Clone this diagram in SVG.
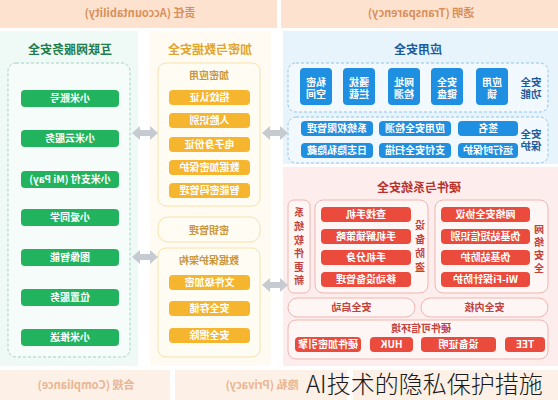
<svg xmlns="http://www.w3.org/2000/svg" width="558" height="400" viewBox="0 0 558 400">
<style>
text{font-family:"Noto Sans CJK SC","Noto Sans",sans-serif;text-anchor:middle;}
.hd{fill:#d98f5a;font-size:11px;font-weight:700;}
.bt{fill:#e9b592;font-size:11px;font-weight:700;}
.w{fill:#fff;font-size:10px;font-weight:700;}
.tg{fill:#1f7d4c;font-size:12px;font-weight:700;}
.ty{fill:#e2a52c;font-size:12px;font-weight:700;}
.ly{fill:#c8963c;font-size:10px;font-weight:700;}
.tb{fill:#1b5d9c;font-size:12px;font-weight:700;}
.lb{fill:#1b5d9c;font-size:10.5px;font-weight:700;}
.tr{fill:#b8312c;font-size:12px;font-weight:700;}
.lr{fill:#c2403a;font-size:10px;font-weight:700;}
.gbtn{fill:#22b35e;}
.obtn{fill:#f5b52e;}
.bbtn{fill:#1e8fe1;}
.rbtn{fill:#ea4b3c;}
.ybox{fill:#fffcf4;stroke:#f6e2a8;stroke-width:1;}
.bbox{fill:#f2f9fe;stroke:#93c3e6;stroke-width:1;stroke-dasharray:3 2;}
.rbox{fill:#fdf6f5;stroke:#f1b4ae;stroke-width:1;}
.arr{fill:#c6cbd1;}
</style>
<defs>
<path id="dbl" d="M0,0 L8,-7 L8,-3 L18,-3 L18,-7 L26,0 L18,7 L18,3 L8,3 L8,7 Z"/>
</defs>

<g id="header">
<rect x="0" y="0" width="277" height="28" fill="#fde3cf"/>
<rect x="281" y="0" width="277" height="28" fill="#fde3cf"/>
<text class="hd" x="140" y="17" transform="matrix(-1 0 0 1 280 0)">责任 (Accountability)</text>
<text class="hd" x="421" y="17" transform="matrix(-1 0 0 1 842 0)">透明 (Transparency)</text>
</g>

<g id="footer">
<rect x="0" y="370" width="170" height="30" fill="#fdf0e6"/>
<rect x="175" y="370" width="172" height="30" fill="#fdf0e6"/>
<rect x="353" y="370" width="205" height="30" fill="#fdf0e6"/>
<text class="bt" x="86" y="389" transform="matrix(-1 0 0 1 172 0)">合规 (Compliance)</text>
<text class="bt" x="262" y="389" transform="matrix(-1 0 0 1 524 0)">隐私 (Privacy)</text>
</g>

<g id="internet">
<rect x="0" y="31" width="138" height="335" fill="#eff9f6"/>
<text class="tg" x="70" y="54" transform="matrix(-1 0 0 1 140 0)">互联网服务安全</text>
<rect x="8" y="63" width="122" height="294" rx="8" fill="#f6fcfa" stroke="#a3d2c3" stroke-dasharray="3 2"/>
<rect class="gbtn" x="21" y="90" width="98" height="17" rx="4"/>
<text class="w" x="70" y="102" transform="matrix(-1 0 0 1 140 0)">小米账号</text>
<rect class="gbtn" x="21" y="130" width="98" height="17" rx="4"/>
<text class="w" x="70" y="142" transform="matrix(-1 0 0 1 140 0)">小米云服务</text>
<rect class="gbtn" x="21" y="171" width="98" height="17" rx="4"/>
<text class="w" x="70" y="183" transform="matrix(-1 0 0 1 140 0)">小米支付 (Mi Pay)</text>
<rect class="gbtn" x="21" y="209" width="98" height="17" rx="4"/>
<text class="w" x="70" y="221" transform="matrix(-1 0 0 1 140 0)">小爱同学</text>
<rect class="gbtn" x="21" y="249" width="98" height="17" rx="4"/>
<text class="w" x="70" y="261" transform="matrix(-1 0 0 1 140 0)">图像智能</text>
<rect class="gbtn" x="21" y="289" width="98" height="17" rx="4"/>
<text class="w" x="70" y="301" transform="matrix(-1 0 0 1 140 0)">位置服务</text>
<rect class="gbtn" x="21" y="329" width="98" height="17" rx="4"/>
<text class="w" x="70" y="341" transform="matrix(-1 0 0 1 140 0)">小米推送</text>
</g>

<g id="crypto">
<rect x="150" y="31" width="121" height="335" fill="#fffbf2"/>
<text class="ty" x="210" y="54" transform="matrix(-1 0 0 1 420 0)">加密与数据安全</text>
<rect class="ybox" x="158" y="63" width="102" height="143" rx="8"/>
<text class="ly" x="209" y="79" transform="matrix(-1 0 0 1 418 0)">加密应用</text>
<rect class="obtn" x="169" y="90" width="81" height="15" rx="4"/>
<text class="w" x="209.5" y="101" transform="matrix(-1 0 0 1 419 0)">指纹认证</text>
<rect class="obtn" x="169" y="113" width="81" height="15" rx="4"/>
<text class="w" x="209.5" y="124" transform="matrix(-1 0 0 1 419 0)">人脸识别</text>
<rect class="obtn" x="169" y="137" width="81" height="15" rx="4"/>
<text class="w" x="209.5" y="148" transform="matrix(-1 0 0 1 419 0)">电子身份证</text>
<rect class="obtn" x="169" y="160" width="81" height="15" rx="4"/>
<text class="w" x="209.5" y="171" transform="matrix(-1 0 0 1 419 0)">数据加密保护</text>
<rect class="obtn" x="169" y="183" width="81" height="15" rx="4"/>
<text class="w" x="209.5" y="194" transform="matrix(-1 0 0 1 419 0)">智能密码管理</text>
<rect class="ybox" x="158" y="217" width="102" height="25" rx="10"/>
<text class="ly" x="209" y="233.5" transform="matrix(-1 0 0 1 418 0)">密钥管理</text>
<rect class="ybox" x="158" y="248" width="102" height="109" rx="8"/>
<text class="ly" x="209" y="264" transform="matrix(-1 0 0 1 418 0)">数据保护架构</text>
<rect class="obtn" x="169" y="275" width="81" height="15" rx="4"/>
<text class="w" x="209.5" y="286" transform="matrix(-1 0 0 1 419 0)">文件级加密</text>
<rect class="obtn" x="169" y="301" width="81" height="15" rx="4"/>
<text class="w" x="209.5" y="312" transform="matrix(-1 0 0 1 419 0)">安全存储</text>
<rect class="obtn" x="169" y="328" width="81" height="15" rx="4"/>
<text class="w" x="209.5" y="339" transform="matrix(-1 0 0 1 419 0)">安全擦除</text>
</g>

<g id="appsec">
<rect x="283" y="31" width="275" height="133" fill="#e8f4fc"/>
<text class="tb" x="418" y="54" transform="matrix(-1 0 0 1 836 0)">应用安全</text>
<rect class="bbox" x="288" y="63" width="260" height="49" rx="8"/>
<rect class="bbtn" x="300" y="68" width="32" height="37" rx="4"/>
<text class="w" x="316" y="86" transform="matrix(-1 0 0 1 632 0)">私密</text>
<text class="w" x="316" y="98" transform="matrix(-1 0 0 1 632 0)">空间</text>
<rect class="bbtn" x="343" y="68" width="32" height="37" rx="4"/>
<text class="w" x="359" y="86" transform="matrix(-1 0 0 1 718 0)">骚扰</text>
<text class="w" x="359" y="98" transform="matrix(-1 0 0 1 718 0)">拦截</text>
<rect class="bbtn" x="388" y="68" width="32" height="37" rx="4"/>
<text class="w" x="404" y="86" transform="matrix(-1 0 0 1 808 0)">网址</text>
<text class="w" x="404" y="98" transform="matrix(-1 0 0 1 808 0)">检测</text>
<rect class="bbtn" x="431" y="68" width="32" height="37" rx="4"/>
<text class="w" x="447" y="86" transform="matrix(-1 0 0 1 894 0)">安全</text>
<text class="w" x="447" y="98" transform="matrix(-1 0 0 1 894 0)">键盘</text>
<rect class="bbtn" x="476" y="68" width="32" height="37" rx="4"/>
<text class="w" x="492" y="86" transform="matrix(-1 0 0 1 984 0)">应用</text>
<text class="w" x="492" y="98" transform="matrix(-1 0 0 1 984 0)">锁</text>
<text class="lb" x="531" y="86" transform="matrix(-1 0 0 1 1062 0)">安全</text>
<text class="lb" x="531" y="98" transform="matrix(-1 0 0 1 1062 0)">功能</text>
<rect class="bbox" x="288" y="117" width="260" height="46" rx="8"/>
<rect class="bbtn" x="301" y="121" width="72" height="15" rx="4"/>
<text class="w" x="337" y="132" transform="matrix(-1 0 0 1 674 0)">系统权限管理</text>
<rect class="bbtn" x="379" y="121" width="72" height="15" rx="4"/>
<text class="w" x="415" y="132" transform="matrix(-1 0 0 1 830 0)">应用安全检测</text>
<rect class="bbtn" x="458" y="121" width="60" height="15" rx="4"/>
<text class="w" x="488" y="132" transform="matrix(-1 0 0 1 976 0)">签名</text>
<rect class="bbtn" x="301" y="143" width="72" height="15" rx="4"/>
<text class="w" x="337" y="154" transform="matrix(-1 0 0 1 674 0)">日志隐私隐藏</text>
<rect class="bbtn" x="379" y="143" width="72" height="15" rx="4"/>
<text class="w" x="415" y="154" transform="matrix(-1 0 0 1 830 0)">支付安全扫描</text>
<rect class="bbtn" x="458" y="143" width="60" height="15" rx="4"/>
<text class="w" x="488" y="154" transform="matrix(-1 0 0 1 976 0)">运行时保护</text>
<text class="lb" x="531" y="138" transform="matrix(-1 0 0 1 1062 0)">安全</text>
<text class="lb" x="531" y="150" transform="matrix(-1 0 0 1 1062 0)">保护</text>
</g>

<g id="hwsec">
<rect x="283" y="167" width="275" height="199" fill="#fdeeed"/>
<text class="tr" x="419" y="192" transform="matrix(-1 0 0 1 838 0)">硬件与系统安全</text>
<rect class="rbox" x="288" y="200" width="22" height="93" rx="6"/>
<g class="lr">
<text x="299" y="216" transform="matrix(-1 0 0 1 598 0)">系</text>
<text x="299" y="230" transform="matrix(-1 0 0 1 598 0)">统</text>
<text x="299" y="244" transform="matrix(-1 0 0 1 598 0)">软</text>
<text x="299" y="257" transform="matrix(-1 0 0 1 598 0)">件</text>
<text x="299" y="271" transform="matrix(-1 0 0 1 598 0)">更</text>
<text x="299" y="284" transform="matrix(-1 0 0 1 598 0)">新</text>
</g>
<rect class="rbox" x="315" y="200" width="113" height="93" rx="8"/>
<rect class="rbtn" x="321" y="207" width="90" height="15" rx="4"/>
<text class="w" x="366" y="218" transform="matrix(-1 0 0 1 732 0)">查找手机</text>
<rect class="rbtn" x="321" y="229" width="90" height="15" rx="4"/>
<text class="w" x="366" y="240" transform="matrix(-1 0 0 1 732 0)">手机解锁策略</text>
<rect class="rbtn" x="321" y="250" width="90" height="15" rx="4"/>
<text class="w" x="366" y="261" transform="matrix(-1 0 0 1 732 0)">手机分身</text>
<rect class="rbtn" x="321" y="272" width="90" height="15" rx="4"/>
<text class="w" x="366" y="283" transform="matrix(-1 0 0 1 732 0)">移动设备管理</text>
<g class="lr">
<text x="420" y="229" transform="matrix(-1 0 0 1 840 0)">设</text>
<text x="420" y="243" transform="matrix(-1 0 0 1 840 0)">备</text>
<text x="420" y="257" transform="matrix(-1 0 0 1 840 0)">防</text>
<text x="420" y="271" transform="matrix(-1 0 0 1 840 0)">盗</text>
</g>
<rect class="rbox" x="435" y="200" width="113" height="93" rx="8"/>
<rect class="rbtn" x="441" y="207" width="89" height="15" rx="4"/>
<text class="w" x="485.5" y="218" transform="matrix(-1 0 0 1 971 0)">网络安全协议</text>
<rect class="rbtn" x="441" y="229" width="89" height="15" rx="4"/>
<text class="w" x="485.5" y="240" transform="matrix(-1 0 0 1 971 0)">伪基站短信识别</text>
<rect class="rbtn" x="441" y="250" width="89" height="15" rx="4"/>
<text class="w" x="485.5" y="261" transform="matrix(-1 0 0 1 971 0)">伪基站防护</text>
<rect class="rbtn" x="441" y="272" width="89" height="15" rx="4"/>
<text class="w" x="485.5" y="283" transform="matrix(-1 0 0 1 971 0)">Wi-Fi探针防护</text>
<g class="lr">
<text x="539" y="233" transform="matrix(-1 0 0 1 1078 0)">网</text>
<text x="539" y="246" transform="matrix(-1 0 0 1 1078 0)">络</text>
<text x="539" y="259" transform="matrix(-1 0 0 1 1078 0)">安</text>
<text x="539" y="272" transform="matrix(-1 0 0 1 1078 0)">全</text>
</g>
<rect class="rbox" x="288" y="298" width="127" height="19" rx="9.5"/>
<text class="lr" x="351.5" y="311" transform="matrix(-1 0 0 1 703 0)">安全启动</text>
<rect class="rbox" x="421" y="298" width="127" height="19" rx="9.5"/>
<text class="lr" x="484.5" y="311" transform="matrix(-1 0 0 1 969 0)">安全内核</text>
<rect class="rbox" x="288" y="320" width="260" height="39" rx="8"/>
<text class="lr" x="421" y="332" transform="matrix(-1 0 0 1 842 0)">硬件可信环境</text>
<rect class="rbtn" x="295" y="337" width="66" height="15" rx="4"/>
<text class="w" x="328" y="348" transform="matrix(-1 0 0 1 656 0)">硬件加密引擎</text>
<rect class="rbtn" x="370" y="337" width="43" height="15" rx="4"/>
<text class="w" x="391.5" y="348" transform="matrix(-1 0 0 1 783 0)">HUK</text>
<rect class="rbtn" x="421" y="337" width="75" height="15" rx="4"/>
<text class="w" x="458.5" y="348" transform="matrix(-1 0 0 1 917 0)">设备证明</text>
<rect class="rbtn" x="505" y="337" width="40" height="15" rx="4"/>
<text class="w" x="525" y="348" transform="matrix(-1 0 0 1 1050 0)">TEE</text>
</g>

<g id="connectors" class="arr">
<use href="#dbl" x="132" y="133"/>
<use href="#dbl" x="132" y="257"/>
<use href="#dbl" x="262" y="133"/>
<use href="#dbl" x="262" y="285"/>
</g>

<text x="306" y="393" style="text-anchor:start;font-size:24px;font-weight:300;fill:#1a1a1a;font-family:'Noto Sans CJK SC','Noto Sans',sans-serif;">AI技术的隐私保护措施</text>
</svg>
